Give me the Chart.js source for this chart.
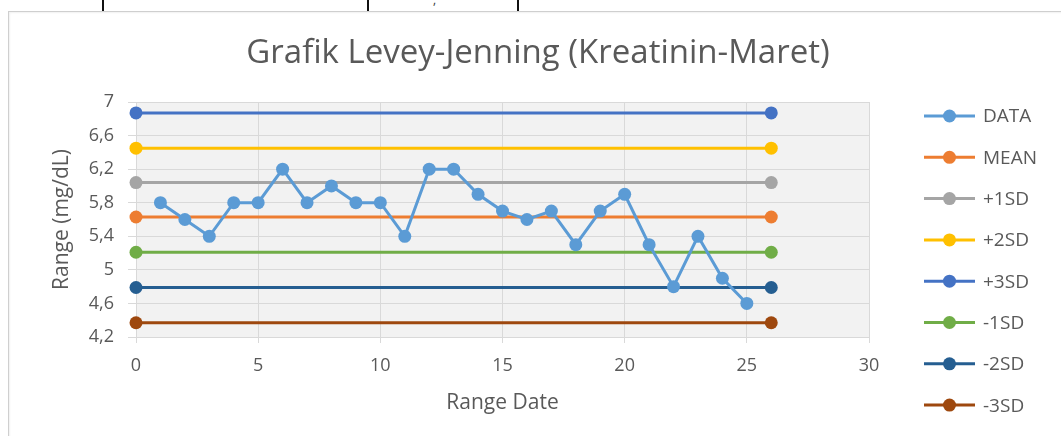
<!DOCTYPE html>
<html>
<head>
<meta charset="utf-8">
<title>Grafik Levey-Jenning (Kreatinin-Maret)</title>
<script src="https://cdn.jsdelivr.net/npm/chart.js@4"></script>
<style>
  html, body { margin: 0; padding: 0; background: #ffffff; }
  #page { position: relative; width: 1061px; height: 436px; overflow: hidden; }
  .cell-rule { position: absolute; top: 0; width: 2px; height: 11px; background: #111; }
  #frame { position: absolute; left: 8px; top: 11px; width: 1100px; height: 500px;
           border-left: 1px solid #cfcfcf; border-top: 1px solid #cfcfcf;
           box-shadow: inset 1px 1px 2px rgba(0,0,0,0.06); }
  #mark { position: absolute; left: 433px; top: -9px; font: 12px 'Open Sans', sans-serif; color: #333; }
  canvas { position: absolute; left: 0; top: 0; }
</style>
</head>
<body>
<div id="page">
  <div class="cell-rule" style="left:102px"></div>
  <div class="cell-rule" style="left:367px"></div>
  <div class="cell-rule" style="left:517px"></div>
  <span id="mark">,</span>
  <div id="frame"></div>
  <canvas id="ljChart" width="1061" height="436"></canvas>
</div>
<script>
// Daily creatinine control results (mg/dL) for March
const days = [1, 2, 3, 4, 5, 6, 7, 8, 9, 10, 11, 12, 13, 14, 15, 16, 17, 18, 19, 20, 21, 22, 23, 24, 25];
const kreatinin = [5.8, 5.6, 5.4, 5.8, 5.8, 6.2, 5.8, 6.0, 5.8, 5.8, 5.4, 6.2, 6.2, 5.9, 5.7, 5.6, 5.7, 5.3, 5.7, 5.9, 5.3, 4.8, 5.4, 4.9, 4.6];

// Control limits drawn as horizontal lines from day 0 to day 26
const limitSpan = [0, 26];
const limitNames = ['MEAN', '+1SD', '+2SD', '+3SD', '-1SD', '-2SD', '-3SD'];
const limitValues = [5.63, 6.04, 6.45, 6.87, 5.21, 4.79, 4.37];

// Axis ticks
const yTicks = [4.2, 4.6, 5, 5.4, 5.8, 6.2, 6.6, 7];
const xTicks = [0, 5, 10, 15, 20, 25, 30];

const chartTitle = 'Grafik Levey-Jenning (Kreatinin-Maret)';

const dataColor = '#5b9bd5';
const limitColors = ['#ed7d31', '#a5a5a5', '#ffc000', '#4472c4', '#70ad47', '#255e91', '#9e480e'];

const TEXT = '#595959';
const GRID = '#d9d9d9';
const FONT = "'Open Sans', sans-serif";

Chart.defaults.font.family = FONT;
Chart.defaults.color = TEXT;

function lineSet(label, points, color) {
  return {
    label: label,
    data: points,
    borderColor: color,
    backgroundColor: color,
    pointBackgroundColor: color,
    pointBorderColor: color,
    borderWidth: 3,
    pointRadius: 6.5,
    pointBorderWidth: 0,
    tension: 0,
    clip: false
  };
}

const datasets = [
  lineSet('DATA', days.map((d, i) => ({ x: d, y: kreatinin[i] })), dataColor)
].concat(limitNames.map((name, i) =>
  lineSet(name, limitSpan.map(x => ({ x: x, y: limitValues[i] })), limitColors[i])
));

// Light grey fill behind the plotting area
const plotBackground = {
  id: 'plotBackground',
  beforeDraw(chart) {
    const { ctx, chartArea: a } = chart;
    ctx.save();
    ctx.fillStyle = '#f2f2f2';
    ctx.fillRect(a.left, a.top, a.right - a.left, a.bottom - a.top);
    ctx.restore();
  }
};

// Heading centred over the whole chart frame (plot + legend column)
const frameHeading = {
  id: 'frameHeading',
  afterDraw(chart, args, opts) {
    const { ctx } = chart;
    ctx.save();
    ctx.fillStyle = TEXT;
    ctx.font = opts.size + 'px ' + FONT;
    ctx.textAlign = 'center';
    ctx.textBaseline = 'alphabetic';
    ctx.fillText(opts.text, opts.x, opts.baseline);
    ctx.restore();
  }
};

// Legend column on the right: line + marker swatch followed by the series name
const sideLegend = {
  id: 'sideLegend',
  afterDraw(chart) {
    const { ctx } = chart;
    const x0 = 924, x1 = 975, textX = 983, top = 116, step = 41.3;
    chart.data.datasets.forEach((ds, i) => {
      const y = top + i * step;
      ctx.save();
      ctx.strokeStyle = ds.borderColor;
      ctx.lineWidth = 3;
      ctx.beginPath();
      ctx.moveTo(x0, y);
      ctx.lineTo(x1, y);
      ctx.stroke();
      ctx.fillStyle = ds.backgroundColor;
      ctx.beginPath();
      ctx.arc((x0 + x1) / 2, y, 6.5, 0, Math.PI * 2);
      ctx.fill();
      ctx.fillStyle = TEXT;
      ctx.font = '19px ' + FONT;
      ctx.textAlign = 'left';
      ctx.textBaseline = 'middle';
      ctx.fillText(ds.label, textX, y + 1);
      ctx.restore();
    });
  }
};

const commaNumber = v => String(Math.round(v * 10) / 10).replace('.', ',');

new Chart(document.getElementById('ljChart'), {
  type: 'line',
  data: { datasets: datasets },
  plugins: [plotBackground, frameHeading, sideLegend],
  options: {
    responsive: false,
    animation: false,
    events: [],
    layout: { padding: { left: 40, right: 192, top: 102, bottom: 0 } },
    plugins: {
      legend: { display: false },
      tooltip: { enabled: false },
      title: { display: false },
      frameHeading: { text: chartTitle, size: 33, x: 538, baseline: 63 }
    },
    scales: {
      x: {
        type: 'linear',
        min: xTicks[0],
        max: xTicks[xTicks.length - 1],
        afterBuildTicks(scale) { scale.ticks = xTicks.map(v => ({ value: v })); },
        afterFit(scale) { scale.height = 99; },
        ticks: { font: { size: 18 }, color: TEXT, padding: 11.7, maxRotation: 0 },
        grid: { color: GRID, lineWidth: 1, tickLength: 6, drawTicks: true },
        border: { color: GRID, width: 1 },
        title: {
          display: true,
          text: 'Range Date',
          color: TEXT,
          font: { size: 21, weight: 'normal', lineHeight: 1.2 },
          padding: { top: 0, bottom: 20.4 }
        }
      },
      y: {
        type: 'linear',
        min: yTicks[0],
        max: yTicks[yTicks.length - 1],
        afterBuildTicks(scale) { scale.ticks = yTicks.map(v => ({ value: v })); },
        afterFit(scale) { scale.width = 96; },
        ticks: { font: { size: 18 }, color: TEXT, padding: 14, callback: commaNumber },
        grid: { color: GRID, lineWidth: 1, tickLength: 8, drawTicks: true },
        border: { color: GRID, width: 1 },
        title: {
          display: true,
          text: 'Range (mg/dL)',
          color: TEXT,
          font: { size: 21, weight: 'normal', lineHeight: 1.2 },
          padding: { top: 9.4, bottom: 0 }
        }
      }
    }
  }
});
</script>
</body>
</html>
